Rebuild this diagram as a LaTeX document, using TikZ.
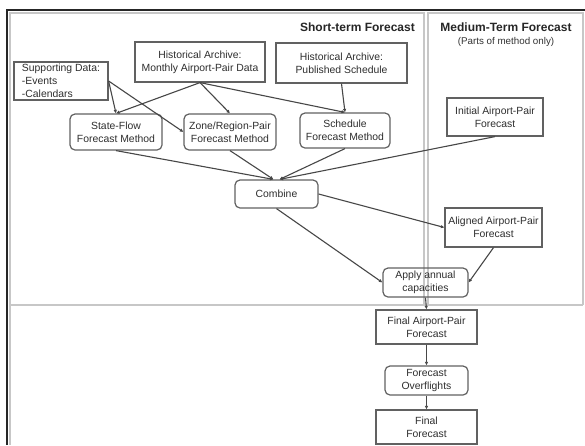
\documentclass[tikz,border=0pt]{standalone}
\usepackage{fontspec}
\setmainfont{Liberation Sans}
\usetikzlibrary{arrows.meta,calc}
\begin{document}
\begin{tikzpicture}[x=1pt,y=-1pt,
 box/.style={draw=black!62,line width=1.2pt,text=black!82,font=\fontsize{10.4}{13}\selectfont,align=center,inner sep=0pt},
 rbox/.style={box,rounded corners=5pt},
 conn/.style={draw=black!72,line width=1.1pt,-{Latex[length=3.5pt,width=3.5pt]}},
 region/.style={draw=black!22,line width=1.3pt},
 title/.style={font=\fontsize{12}{14}\selectfont\bfseries,text=black!85,inner sep=0pt}]
\useasboundingbox (0,0) rectangle (585,445);
\fill[white] (0,0) rectangle (585,445);
% regions
\draw[region] (10,305) -- (10,13) -- (424,13) -- (424,305);
\draw[region] (428,305) -- (428,13) -- (583,13) -- (583,305);
\draw[region] (10,305) -- (583,305);
\draw[region] (10,305) -- (10,445);
% outer frame
\draw[black!85,line width=1.2pt] (7,445) -- (7,10) -- (585,10);
% titles
\node[title,anchor=east] (tst) at (415,27) {Short-term Forecast};
\node[title] (tmt) at (506,27) {Medium-Term Forecast};
\node[font=\fontsize{9.8}{11}\selectfont,text=black!80,inner sep=0pt] (tpm) at (506,42) {(Parts of method only)};
% nodes
\node[box,minimum width=94pt,minimum height=38pt,align=left] (sup) at (61,81) {Supporting Data:\\-Events\\-Calendars};
\node[box,minimum width=130pt,minimum height=40pt] (hma) at (200,62) {Historical Archive:\\Monthly Airport-Pair Data};
\node[box,minimum width=131pt,minimum height=40pt] (hps) at (341.5,63) {Historical Archive:\\Published Schedule};
\node[rbox,minimum width=92pt,minimum height=36pt] (sf) at (116,132) {State-Flow\\Forecast Method};
\node[rbox,minimum width=92pt,minimum height=36pt] (zr) at (230,132) {Zone/Region-Pair\\Forecast Method};
\node[rbox,minimum width=90pt,minimum height=35pt] (sch) at (345,130.5) {Schedule\\Forecast Method};
\node[box,minimum width=96pt,minimum height=38pt] (iap) at (495,117) {Initial Airport-Pair\\Forecast};
\node[rbox,minimum width=83pt,minimum height=28pt] (comb) at (276.5,194) {Combine};
\node[box,minimum width=97pt,minimum height=39pt] (aap) at (493.5,227.5) {Aligned Airport-Pair\\Forecast};
\node[rbox,minimum width=85pt,minimum height=29pt] (app) at (425.5,282.5) {Apply annual\\capacities};
\node[box,minimum width=101pt,minimum height=34pt] (fap) at (426.5,327) {Final Airport-Pair\\Forecast};
\node[rbox,minimum width=83pt,minimum height=29pt] (fo) at (426.5,380.5) {Forecast\\Overflights};
\node[box,minimum width=101pt,minimum height=34pt] (ff) at (426.5,427) {Final\\Forecast};
% connectors
\draw[conn] (sup.east) -- (sf.north);
\draw[conn] (sup.east) -- (zr.west);
\draw[conn] (hma.south) -- (sf.north);
\draw[conn] (hma.south) -- (zr.north);
\draw[conn] (hma.south) -- (sch.north);
\draw[conn] (hps.south) -- (sch.north);
\draw[conn] (sf.south) -- ($(comb.north)+(-3,0)$);
\draw[conn] (zr.south) -- ($(comb.north)+(-3,0)$);
\draw[conn] (sch.south) -- ($(comb.north)+(3,0)$);
\draw[conn] (iap.south) -- ($(comb.north)+(3,0)$);
\draw[conn] (comb.east) -- (aap.west);
\draw[conn] (comb.south) -- (app.west);
\draw[conn] (aap.south) -- (app.east);
\draw[conn] (app.south) -- (fap.north);
\draw[conn] (fap.south) -- (fo.north);
\draw[conn] (fo.south) -- (ff.north);
\end{tikzpicture}
\end{document}
